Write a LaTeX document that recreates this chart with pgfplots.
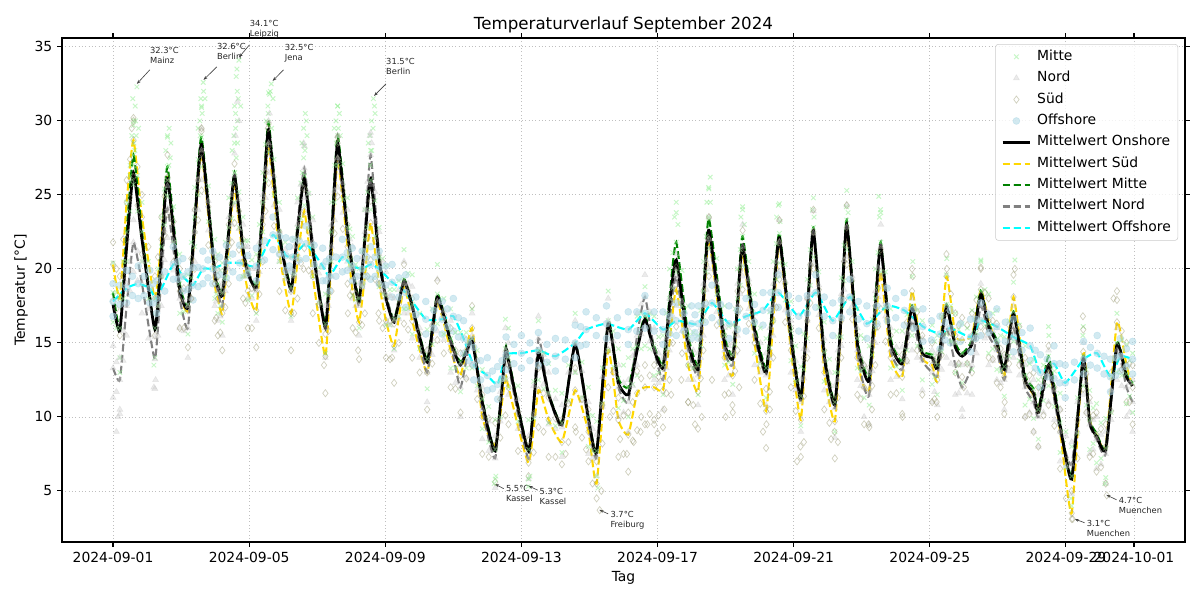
\documentclass[border=0pt]{standalone}
\usepackage{fontspec}
\setmainfont{DejaVu Sans}
\usepackage{pgfplots}
\usepackage{pgfplotstable}
\pgfplotsset{compat=1.18}
\usetikzlibrary{arrows.meta}
\definecolor{mgreen}{RGB}{144,238,144}
\definecolor{ngray}{RGB}{195,195,195}
\definecolor{skhaki}{RGB}{150,150,110}
\definecolor{oblue}{RGB}{173,216,230}
\definecolor{sgold}{RGB}{255,215,0}
\definecolor{mdgreen}{RGB}{0,128,0}
\definecolor{ndgray}{RGB}{128,128,128}
\definecolor{ocyan}{RGB}{0,255,255}

\pgfplotstableread{
x on sud mitte nord mlo mhi slo shi nlo nhi
0.00 17.6 20.3 18.4 13.3 16.4 20.4 17.8 21.8 11.3 14.8
0.20 15.8 18.0 16.0 12.5 14.0 18.0 15.5 19.5 10.5 14.0
0.40 21.5 24.5 22.5 17.5 20.5 24.5 22.0 26.0 15.5 19.0
0.60 26.5 28.7 27.7 21.8 25.7 29.7 26.2 30.2 19.8 23.3
0.85 22.0 23.5 22.5 19.0 20.5 24.5 21.0 25.0 17.0 20.5
1.23 15.9 18.0 16.0 13.9 14.0 18.0 15.5 19.5 11.9 15.4
1.42 21.0 22.0 21.5 19.5 19.5 23.5 19.5 23.5 17.5 21.0
1.60 26.1 26.2 26.9 24.1 24.9 28.9 23.7 27.7 22.1 25.6
1.96 18.6 18.5 19.0 18.0 17.0 21.0 16.0 20.0 16.0 19.5
2.20 17.4 17.2 17.6 16.0 15.6 19.6 14.7 18.7 14.0 17.5
2.40 23.0 22.5 23.5 22.5 21.5 25.5 20.0 24.0 20.5 24.0
2.60 28.4 27.8 28.9 28.0 26.9 30.9 25.3 29.3 26.0 29.5
2.99 19.7 19.0 20.0 19.5 18.0 22.0 16.5 20.5 17.5 21.0
3.08 18.8 18.0 19.0 18.5 17.0 21.0 15.5 19.5 16.5 20.0
3.21 18.2 17.0 18.4 17.5 16.4 20.4 14.5 18.5 15.5 19.0
3.40 22.5 21.5 22.8 22.0 20.8 24.8 19.0 23.0 20.0 23.5
3.57 26.3 25.6 26.5 26.3 24.5 28.5 23.1 27.1 24.3 27.8
3.82 21.3 20.5 21.5 21.5 19.5 23.5 18.0 22.0 19.5 23.0
3.96 19.7 18.5 19.9 20.0 17.9 21.9 16.0 20.0 18.0 21.5
4.21 18.8 17.2 19.0 18.5 17.0 21.0 14.7 18.7 16.5 20.0
4.40 24.0 23.0 24.5 23.5 22.5 26.5 20.5 24.5 21.5 25.0
4.57 29.4 28.3 29.9 28.5 27.9 31.9 25.8 29.8 26.5 30.0
4.89 22.2 21.0 22.5 22.5 20.5 24.5 18.5 22.5 20.5 24.0
5.23 18.6 17.0 18.8 18.5 16.8 20.8 14.5 18.5 16.5 20.0
5.42 22.5 20.5 22.8 23.0 20.8 24.8 18.0 22.0 21.0 24.5
5.62 26.1 23.9 26.3 26.8 24.3 28.3 21.4 25.4 24.8 28.3
5.87 21.3 19.5 21.5 21.8 19.5 23.5 17.0 21.0 19.8 23.3
6.24 16.0 14.1 16.3 16.0 14.3 18.3 11.6 15.6 14.0 17.5
6.42 22.0 21.0 22.5 21.5 20.5 24.5 18.5 22.5 19.5 23.0
6.60 28.5 27.4 29.0 27.5 27.0 31.0 24.9 28.9 25.5 29.0
6.89 22.4 21.5 22.8 22.5 20.8 24.8 19.0 23.0 20.5 24.0
7.04 19.9 18.5 20.2 20.0 18.2 22.2 16.0 20.0 18.0 21.5
7.23 17.8 16.4 18.0 17.5 16.0 20.0 13.9 17.9 15.5 19.0
7.40 22.0 19.5 22.0 22.5 20.0 24.0 17.0 21.0 20.5 24.0
7.57 26.1 23.1 26.0 27.7 24.0 28.0 20.6 24.6 25.7 29.2
7.82 20.6 19.0 20.8 21.0 18.8 22.8 16.5 20.5 19.0 22.5
8.02 18.0 16.5 18.2 18.3 16.2 20.2 14.0 18.0 16.3 19.8
8.26 16.4 14.8 16.6 16.5 14.6 18.6 12.3 16.3 14.5 18.0
8.55 19.2 18.8 19.3 19.0 17.3 21.3 16.3 20.3 17.0 20.5
8.79 17.5 16.5 17.6 17.3 15.6 19.6 14.0 18.0 15.3 18.8
9.23 13.7 13.0 13.9 13.0 11.9 15.9 10.5 14.5 11.0 14.5
9.53 18.1 17.7 18.3 17.8 16.3 20.3 15.2 19.2 15.8 19.3
9.92 15.1 14.5 15.3 15.0 13.3 17.3 12.0 16.0 13.0 16.5
10.21 13.5 12.8 13.7 12.0 11.7 15.7 10.3 14.3 10.0 13.5
10.55 15.1 16.0 15.3 15.5 13.3 17.3 13.5 17.5 13.5 17.0
10.85 11.0 10.0 11.2 10.5 9.2 13.2 7.5 11.5 8.5 12.0
11.23 7.7 8.1 7.8 7.2 5.8 9.8 5.6 9.6 5.2 8.7
11.53 14.4 12.6 14.6 14.5 12.6 16.6 10.1 14.1 12.5 16.0
11.62 13.8 12.0 14.0 13.5 12.0 16.0 9.5 13.5 11.5 15.0
12.21 7.7 6.9 7.8 7.2 5.8 9.8 6.0 8.4 5.8 8.7
12.50 14.3 11.8 14.5 15.3 12.5 16.5 9.3 13.3 13.3 16.8
12.80 11.5 9.8 11.6 11.5 9.6 13.6 7.3 11.3 9.5 13.0
13.19 9.5 8.3 9.6 9.3 7.6 11.6 6.8 9.8 7.3 10.8
13.58 14.9 11.8 15.0 15.0 13.0 17.0 9.3 13.3 13.0 16.5
13.97 9.9 9.0 10.0 9.5 8.0 12.0 7.0 10.5 7.5 11.0
14.21 7.6 5.5 7.7 7.3 6.0 9.7 4.5 7.0 6.0 8.8
14.55 16.3 14.5 16.5 16.5 14.5 18.5 12.0 16.0 14.5 18.0
14.85 12.3 9.8 12.6 12.0 10.6 14.6 7.3 11.3 10.0 13.5
15.14 11.5 8.8 12.0 11.0 10.0 14.0 6.3 10.3 9.0 12.5
15.40 14.5 11.6 14.8 15.5 12.8 16.8 9.1 13.1 13.5 17.0
15.63 16.6 12.0 16.8 18.1 14.8 18.8 9.5 13.5 16.1 19.6
15.90 14.5 12.0 14.8 14.5 12.8 16.8 9.5 13.5 12.5 16.0
16.16 13.3 11.8 13.5 12.5 11.5 15.5 9.3 13.3 10.5 14.0
16.35 17.5 15.0 18.0 16.5 16.0 20.0 12.5 16.5 14.5 18.0
16.55 20.6 18.6 21.8 19.5 19.8 23.8 16.1 20.1 17.5 21.0
16.90 15.0 13.5 15.5 14.5 13.5 17.5 11.0 15.0 12.5 16.0
17.19 13.2 11.7 13.5 12.8 11.5 15.5 9.2 13.2 10.8 14.3
17.35 18.0 17.0 18.5 17.5 16.5 20.5 14.5 18.5 15.5 19.0
17.51 22.6 22.0 23.4 22.0 21.4 25.4 19.5 23.5 20.0 23.5
17.97 15.0 14.0 15.5 14.5 13.5 17.5 11.5 15.5 12.5 16.0
18.21 13.9 12.8 14.2 13.5 12.2 16.2 10.3 14.3 11.5 15.0
18.35 17.5 17.0 18.0 17.5 16.0 20.0 14.5 18.5 15.5 19.0
18.50 21.6 21.1 22.2 21.5 20.2 24.2 18.6 22.6 19.5 23.0
18.85 15.9 15.0 16.3 15.5 14.3 18.3 12.5 16.5 13.5 17.0
19.19 13.0 10.4 13.3 12.8 11.3 15.3 7.9 11.9 10.8 14.3
19.40 18.0 16.5 18.5 17.5 16.5 20.5 14.0 18.0 15.5 19.0
19.58 22.1 21.8 22.4 21.8 20.4 24.4 19.3 23.3 19.8 23.3
19.92 15.4 14.5 15.8 15.0 13.8 17.8 12.0 16.0 13.0 16.5
20.21 11.2 9.8 11.4 11.0 9.4 13.4 7.3 11.3 9.0 12.5
20.40 17.0 16.5 17.3 16.5 15.3 19.3 14.0 18.0 14.5 18.0
20.58 22.6 22.5 22.8 22.4 20.8 24.8 20.0 24.0 20.4 23.9
20.90 14.1 13.0 14.4 13.8 12.4 16.4 10.5 14.5 11.8 15.3
21.21 10.8 9.7 11.0 10.6 9.0 13.0 7.2 11.2 8.6 12.1
21.40 17.0 16.5 17.4 16.8 15.4 19.4 14.0 18.0 14.8 18.3
21.56 23.0 22.8 23.3 22.8 21.3 25.3 20.3 24.3 20.8 24.3
21.87 15.0 14.0 15.3 14.5 13.3 17.3 11.5 15.5 12.5 16.0
22.07 13.0 12.0 13.3 12.0 11.3 15.3 9.5 13.5 10.0 13.5
22.22 12.5 11.8 12.8 11.5 10.8 14.8 9.3 13.3 9.5 13.0
22.40 17.5 16.0 18.0 17.0 16.0 20.0 13.5 17.5 15.0 18.5
22.56 21.6 19.8 21.8 21.5 19.8 23.8 17.3 21.3 19.5 23.0
22.85 15.0 14.0 15.3 14.5 13.3 17.3 11.5 15.5 12.5 16.0
23.19 13.6 12.7 13.8 13.2 11.8 15.8 10.2 14.2 11.2 14.7
23.48 17.4 18.5 17.5 16.5 15.5 19.5 16.0 20.0 14.5 18.0
23.78 14.3 14.0 14.5 13.8 12.5 16.5 11.5 15.5 11.8 15.3
24.07 14.0 13.5 14.2 13.0 12.2 16.2 11.0 15.0 11.0 14.5
24.22 13.3 12.5 13.5 12.8 11.5 15.5 10.0 14.0 10.8 14.3
24.49 17.4 19.5 17.6 16.0 15.6 19.6 17.0 21.0 14.0 17.5
24.75 14.7 15.5 15.0 13.5 13.0 17.0 13.0 17.0 11.5 15.0
24.95 14.1 15.2 14.3 12.0 12.3 16.3 12.7 16.7 10.0 13.5
25.24 14.9 15.5 15.2 13.5 13.2 17.2 13.0 17.0 11.5 15.0
25.50 18.3 18.6 18.5 17.5 16.5 20.5 16.1 20.1 15.5 19.0
25.73 16.1 16.5 16.3 15.5 14.3 18.3 14.0 18.0 13.5 17.0
25.97 15.0 14.8 15.2 14.5 13.2 17.2 12.3 16.3 12.5 16.0
26.19 13.2 12.7 13.4 12.5 11.4 15.4 10.2 14.2 10.5 14.0
26.46 17.0 18.1 17.1 16.0 15.1 19.1 15.6 19.6 14.0 17.5
26.80 12.5 12.5 12.8 12.0 10.8 14.8 10.0 14.0 10.0 13.5
27.05 11.6 11.5 11.9 11.0 9.9 13.9 9.0 13.0 9.0 12.5
27.19 10.3 10.5 10.5 10.0 8.5 12.5 8.0 12.0 8.0 11.5
27.49 13.5 13.3 14.1 13.0 12.1 16.1 10.8 14.8 11.0 14.5
27.83 9.4 9.0 9.6 9.0 7.6 11.6 6.5 10.5 7.0 10.5
28.17 5.8 3.5 6.0 6.8 4.0 8.0 3.1 5.0 4.8 8.3
28.51 14.0 14.4 14.1 13.5 12.1 16.1 11.9 15.9 11.5 15.0
28.70 9.6 9.8 9.8 9.5 7.8 11.8 7.3 11.3 7.5 11.0
28.90 8.7 8.8 8.9 8.5 6.9 10.9 6.3 10.3 6.5 10.0
29.17 7.8 8.0 7.9 7.5 5.9 9.9 5.5 9.5 5.5 9.0
29.50 14.9 16.4 15.0 14.5 13.0 17.0 13.9 17.9 12.5 16.0
29.78 12.7 13.5 12.9 12.0 10.9 14.9 11.0 15.0 10.0 13.5
29.96 12.1 12.0 12.3 11.0 10.3 14.3 9.5 13.5 9.0 12.5
}\tdata

\pgfplotstableread{
x ma mb sa sb na nb
0.10 18.4 16.0 20.0 17.3 13.7 11.7
0.30 20.5 18.0 22.0 19.5 15.8 13.8
0.50 26.3 23.9 27.4 24.8 20.5 18.5
0.72 26.3 23.9 26.9 24.3 21.2 19.2
1.04 20.5 18.0 21.5 19.0 17.3 15.3
1.32 20.0 17.5 20.8 18.2 17.5 15.5
1.51 25.4 23.0 24.9 22.3 22.6 20.6
1.78 24.2 21.8 23.2 20.5 21.9 19.9
2.08 19.5 17.1 18.7 16.0 17.8 15.8
2.30 21.8 19.4 20.7 18.0 20.0 18.0
2.50 27.4 25.0 26.0 23.3 26.0 24.0
2.80 25.6 23.2 24.2 21.6 24.6 22.6
3.03 20.7 18.3 19.3 16.7 19.8 17.8
3.15 19.9 17.5 18.3 15.7 18.8 16.8
3.30 21.8 19.4 20.0 17.4 20.5 18.5
3.49 25.8 23.4 24.4 21.8 25.0 23.0
3.70 25.2 22.8 23.9 21.3 24.7 22.7
3.89 21.9 19.5 20.3 17.7 21.5 19.5
4.08 20.6 18.2 18.7 16.0 20.0 18.0
4.30 23.0 20.5 20.9 18.3 21.8 19.8
4.48 28.4 26.0 26.5 23.9 26.8 24.8
4.73 27.4 25.0 25.5 22.9 26.3 24.3
5.06 21.8 19.4 19.8 17.2 21.3 19.3
5.32 22.0 19.6 19.6 17.0 21.5 19.5
5.52 25.8 23.4 23.0 20.4 25.7 23.7
5.75 25.1 22.7 22.5 19.9 25.1 23.1
6.05 20.1 17.7 17.6 15.0 19.7 17.7
6.33 20.6 18.2 18.4 15.8 19.5 17.5
6.51 27.0 24.5 25.0 22.4 25.3 23.3
6.75 27.1 24.7 25.3 22.7 25.8 23.8
6.96 22.7 20.3 20.8 18.2 22.0 20.0
7.13 20.3 17.9 18.3 15.7 19.5 17.5
7.32 21.2 18.8 18.8 16.2 20.8 18.8
7.48 25.2 22.8 22.1 19.5 25.9 23.9
7.70 24.6 22.2 21.9 19.3 25.2 23.2
7.92 20.7 18.3 18.6 16.0 20.5 18.5
8.14 18.6 16.2 16.5 13.9 18.2 16.2
8.40 19.2 16.8 17.6 15.0 18.6 16.6
8.67 19.7 17.3 18.5 15.9 19.0 17.0
9.01 17.0 14.6 15.6 13.0 16.0 14.0
9.38 17.3 14.9 16.2 13.6 16.2 14.2
9.72 18.0 15.6 16.9 14.3 17.2 15.2
10.06 15.7 13.3 14.5 11.9 14.3 12.3
10.38 15.7 13.3 15.2 12.6 14.6 12.6
10.70 14.5 12.1 13.8 11.2 13.8 11.8
11.04 10.7 8.3 9.9 7.3 9.7 7.7
11.38 12.4 10.0 11.2 8.6 11.7 9.7
11.90 12.1 9.7 10.3 7.7 11.2 9.2
12.36 12.4 9.9 10.2 7.6 12.1 10.1
12.65 14.3 11.9 11.6 9.0 14.2 12.2
13.00 11.8 9.4 9.9 7.3 11.2 9.2
13.38 13.5 11.1 10.9 8.3 13.0 11.0
13.78 13.7 11.3 11.2 8.6 13.1 11.1
14.09 10.1 7.7 8.1 5.5 9.2 7.2
14.38 13.3 10.9 10.8 8.2 12.7 10.7
14.70 15.8 13.4 13.0 10.4 15.1 13.1
15.00 13.5 11.1 10.1 7.5 12.3 10.3
15.27 14.6 12.2 11.0 8.4 14.1 12.1
15.52 17.0 14.6 12.6 10.0 17.6 15.6
15.77 17.0 14.6 12.8 10.2 17.1 15.1
16.03 15.4 13.0 12.7 10.1 14.3 12.3
16.26 17.0 14.6 14.2 11.6 15.3 13.3
16.45 21.1 18.7 17.6 15.0 18.8 16.8
16.72 19.9 17.5 16.9 14.3 17.8 15.8
17.05 15.7 13.3 13.4 10.8 14.5 12.5
17.27 17.2 14.8 15.2 12.6 16.0 14.0
17.43 22.2 19.8 20.3 17.7 20.6 18.6
17.74 20.7 18.3 18.8 16.2 19.1 17.1
18.09 16.1 13.7 14.2 11.6 14.8 12.8
18.28 17.3 14.9 15.7 13.1 16.3 14.3
18.43 21.3 18.9 19.9 17.3 20.3 18.3
18.68 20.5 18.1 18.9 16.3 19.3 17.3
19.02 16.0 13.6 13.5 10.9 15.0 13.0
19.30 17.1 14.7 14.3 11.7 16.0 14.0
19.49 21.7 19.3 20.0 17.4 20.5 18.5
19.75 20.3 17.9 19.0 16.4 19.2 17.2
20.06 14.8 12.4 13.0 10.4 13.8 11.8
20.30 15.6 13.2 14.0 11.4 14.6 12.6
20.49 21.3 18.9 20.3 17.7 20.3 18.3
20.74 19.8 17.4 18.6 16.0 18.9 16.9
21.05 13.9 11.5 12.2 9.6 13.0 11.0
21.30 15.4 13.0 13.9 11.3 14.5 12.5
21.48 21.6 19.2 20.5 17.9 20.6 18.6
21.72 20.5 18.1 19.2 16.6 19.5 17.5
21.97 15.5 13.1 13.8 11.2 14.1 12.1
22.31 16.6 14.2 14.7 12.1 15.1 13.1
22.48 21.1 18.7 18.7 16.1 20.1 18.1
22.70 19.8 17.4 17.7 15.1 18.8 16.8
23.02 15.8 13.4 14.2 11.6 14.7 12.7
23.33 16.9 14.5 16.4 13.8 15.7 13.7
23.63 17.2 14.8 17.1 14.5 16.0 14.0
24.14 15.1 12.7 13.8 11.2 13.7 11.7
24.35 16.8 14.4 16.8 14.2 15.2 13.2
24.62 17.5 15.1 18.3 15.7 15.6 13.6
24.85 15.9 13.5 16.2 13.6 13.6 11.6
25.10 16.0 13.6 16.2 13.6 13.6 11.6
25.37 18.1 15.7 17.9 15.3 16.3 14.3
25.62 18.6 16.2 18.4 15.8 17.3 15.3
25.85 17.0 14.6 16.5 13.9 15.8 13.8
26.08 15.5 13.1 14.6 12.0 14.3 12.3
26.33 16.5 14.1 16.2 13.6 15.1 13.1
26.63 16.2 13.8 16.1 13.5 14.8 12.8
26.93 13.6 11.2 12.8 10.2 12.3 10.3
27.34 13.5 11.1 12.7 10.1 12.3 10.3
27.66 13.1 10.7 12.0 9.4 11.8 9.8
28.00 9.0 6.6 7.1 4.5 8.7 6.7
28.34 11.3 8.9 9.8 7.2 11.0 9.0
28.60 13.2 10.8 12.9 10.3 12.3 10.3
28.80 10.6 8.2 10.1 7.5 9.8 7.8
29.03 9.6 7.2 9.2 6.6 8.8 6.8
29.33 12.7 10.3 13.0 10.4 11.8 9.8
29.64 15.2 12.8 15.8 13.2 14.1 12.1
29.87 13.8 11.4 13.6 11.0 12.3 10.3
}\tmid

\pgfplotstableread{
x off olo ohi
0.00 17.8 16.8 19.0
0.40 18.7 17.7 19.9
0.74 19.0 18.0 20.2
1.08 18.7 17.7 19.9
1.28 18.0 17.0 19.2
1.77 20.3 19.3 21.5
2.05 19.5 18.5 20.7
2.35 18.9 17.9 20.1
2.64 20.0 19.0 21.2
2.93 20.0 19.0 21.2
3.33 20.4 19.4 21.6
3.72 20.4 19.4 21.6
4.21 20.2 19.2 21.4
4.70 22.3 21.3 23.5
5.08 20.9 19.9 22.1
5.28 20.8 19.8 22.0
5.67 21.7 20.7 22.9
6.16 20.2 19.2 21.4
6.36 19.5 18.5 20.7
6.74 20.8 19.8 22.0
7.03 20.2 19.2 21.4
7.32 20.0 19.0 21.2
7.57 20.3 19.3 21.5
7.82 20.0 19.0 21.2
8.20 19.1 18.1 20.3
8.60 18.4 17.4 19.6
9.19 16.6 15.6 17.8
9.67 16.6 15.6 17.8
10.00 16.8 15.8 18.0
10.30 15.3 14.3 16.5
10.60 13.5 12.5 14.7
11.00 12.8 11.8 14.0
11.30 12.2 11.2 13.4
11.55 14.2 13.2 15.4
12.00 14.3 13.3 15.5
12.50 14.5 13.5 15.7
13.00 14.1 13.1 15.3
13.58 15.0 14.0 16.2
13.90 15.9 14.9 17.1
14.50 16.3 15.3 17.5
15.14 15.9 14.9 17.1
15.63 17.0 16.0 18.2
16.16 15.9 14.9 17.1
16.55 16.5 15.5 17.7
17.00 16.3 15.3 17.5
17.20 16.3 15.3 17.5
17.60 17.7 16.7 18.9
18.10 16.3 15.3 17.5
18.60 16.8 15.8 18.0
19.10 17.2 16.2 18.4
19.55 18.4 17.4 19.6
20.15 16.8 15.8 18.0
20.65 18.4 17.4 19.6
21.15 16.5 15.5 17.7
21.65 18.1 17.1 19.3
22.15 16.3 15.3 17.5
22.75 17.5 16.5 18.7
23.25 17.2 16.2 18.4
23.80 16.1 15.1 17.3
24.30 15.6 14.6 16.8
24.60 16.0 15.0 17.2
25.20 15.4 14.4 16.6
25.50 16.5 15.5 17.7
25.97 16.1 15.1 17.3
26.46 15.4 14.4 16.6
26.95 14.8 13.8 16.0
27.25 13.0 12.0 14.2
27.65 13.6 12.6 14.8
27.98 12.3 11.3 13.5
28.52 13.9 12.9 15.1
28.92 14.3 13.3 15.5
29.31 12.7 11.7 13.9
29.60 14.1 13.1 15.3
29.96 13.9 12.9 15.1
}\toff

\pgfplotstableread{
x oa ob
0.20 18.9 17.6
0.57 19.5 18.2
0.91 19.5 18.2
1.18 19.0 17.7
1.52 19.8 18.5
1.91 20.5 19.3
2.20 19.8 18.6
2.50 20.1 18.8
2.79 20.6 19.4
3.13 20.8 19.6
3.52 21.0 19.8
3.96 20.9 19.7
4.45 21.9 20.6
4.89 22.2 21.0
5.18 21.5 20.2
5.47 21.9 20.6
5.91 21.6 20.3
6.26 20.5 19.2
6.55 20.8 19.5
6.88 21.1 19.9
7.17 20.7 19.5
7.45 20.8 19.5
7.70 20.8 19.5
8.01 20.2 18.9
8.40 19.4 18.1
8.90 18.1 16.9
9.43 17.2 16.0
9.83 17.3 16.1
10.15 16.7 15.4
10.45 15.0 13.8
10.80 13.8 12.5
11.15 13.1 11.9
11.43 13.8 12.6
11.78 14.9 13.6
12.25 15.0 13.8
12.75 14.9 13.7
13.29 15.2 13.9
13.74 16.1 14.8
14.20 16.7 15.5
14.82 16.7 15.5
15.39 17.1 15.8
15.90 17.1 15.8
16.36 16.8 15.6
16.78 17.0 15.8
17.10 16.9 15.7
17.40 17.6 16.4
17.85 17.6 16.4
18.35 17.2 15.9
18.85 17.6 16.4
19.33 18.4 17.2
19.85 18.2 17.0
20.40 18.2 17.0
20.90 18.1 16.8
21.40 17.9 16.7
21.90 17.8 16.6
22.45 17.5 16.3
23.00 18.0 16.7
23.53 17.3 16.0
24.05 16.5 15.2
24.45 16.4 15.2
24.90 16.3 15.1
25.35 16.6 15.3
25.74 16.9 15.7
26.22 16.4 15.1
26.71 15.7 14.5
27.10 14.5 13.3
27.45 13.9 12.7
27.82 13.6 12.3
28.25 13.7 12.5
28.72 14.7 13.5
29.12 14.1 12.9
29.46 14.0 12.8
29.78 14.6 13.4
}\toffmid

\begin{document}
\begin{tikzpicture}
\begin{axis}[
  name=ax,
  scale only axis,
  width=808.6pt, height=362.9pt,
  xmin=-1.5, xmax=31.5, ymin=1.55, ymax=35.6,
  clip=false,
  xtick={0,4,8,12,16,20,24,28,30},
  xticklabels={2024-09-01,2024-09-05,2024-09-09,2024-09-13,2024-09-17,2024-09-21,2024-09-25,2024-09-29,2024-10-01},
  ytick={5,10,15,20,25,30,35},
  /pgf/number format/assume math mode=true,
  tick align=outside,
  major tick length=3.5pt,
  every tick/.style={black, line width=0.8pt},
  axis line style={line width=0.8pt},
  tick label style={font=\fontsize{10}{12}\selectfont},
  grid=major,
  grid style={dotted, line width=0.6pt, black!25},
  xlabel={Tag},
  ylabel={Temperatur [°C]},
  label style={font=\fontsize{10}{12}\selectfont},
  ylabel style={yshift=-2pt},
  title={Temperaturverlauf September 2024},
  title style={font=\fontsize{12}{14}\selectfont, yshift=-6pt},
  legend cell align=left,
  legend style={at={(0.9938,0.988)}, anchor=north east, draw=black!20, rounded corners=2pt,
    fill=white, fill opacity=0.8, text opacity=1, font=\fontsize{10}{12}\selectfont,
    row sep=3.4pt, column sep=3pt, inner xsep=4pt, inner ysep=3pt,
    nodes={inner sep=1pt, text height=7.5pt, text depth=2.5pt}},
  legend image code/.code={\draw[mark repeat=2,mark phase=2,#1] plot coordinates {(0pt,0pt) (10pt,0pt) (20pt,0pt)};},
  mittestyle/.style={only marks, mark=x, mark size=2.3pt, color=mgreen, line width=0.7pt, opacity=0.5},
  nordstyle/.style={only marks, mark=triangle*, mark size=2.5pt, color=ngray, mark options={draw=ngray, fill=ngray}, opacity=0.33},
  sudstyle/.style={only marks, mark=diamond, mark size=2.6pt, color=skhaki, line width=0.5pt, mark options={fill=none}, opacity=0.45},
  offstyle/.style={only marks, mark=*, mark size=2.5pt, color=oblue, mark options={draw=oblue, fill=oblue}, opacity=0.55},
  sudline/.style={sgold, line width=1.5pt, dash pattern=on 5.55pt off 2.4pt},
  mitteline/.style={mdgreen, line width=1.5pt, dash pattern=on 5.55pt off 2.4pt},
  nordline/.style={ndgray, line width=1.5pt, dash pattern=on 5.55pt off 2.4pt},
  offline/.style={ocyan, line width=1.5pt, dash pattern=on 5.55pt off 2.4pt},
  online/.style={black, line width=2pt},
]
% scatter series (legend entries)
\addplot[mittestyle] table[x=x, y=mhi] {\tdata};
\addlegendentry{Mitte}
\addplot[nordstyle] table[x=x, y=nlo] {\tdata};
\addlegendentry{Nord}
\addplot[sudstyle] table[x=x, y=slo] {\tdata};
\addlegendentry{Süd}
\addplot[offstyle] table[x=x, y=olo] {\toff};
\addlegendentry{Offshore}
\addlegendimage{online}
\addlegendentry{Mittelwert Onshore}
\addlegendimage{sudline}
\addlegendentry{Mittelwert Süd}
\addlegendimage{mitteline}
\addlegendentry{Mittelwert Mitte}
\addlegendimage{nordline}
\addlegendentry{Mittelwert Nord}
\addlegendimage{offline}
\addlegendentry{Mittelwert Offshore}

% further scatter points of the same series
\addplot[mittestyle, forget plot] table[x=x, y=mlo] {\tdata};
\addplot[mittestyle, forget plot] table[x=x, y=mitte] {\tdata};
\addplot[mittestyle, forget plot] table[x=x, y=ma] {\tmid};
\addplot[mittestyle, forget plot] table[x=x, y=mb] {\tmid};
\addplot[mittestyle, forget plot] coordinates {
(0.5,27) (0.55,29) (0.6,30) (0.65,31) (0.7,32.3) (0.75,29.5) (0.62,28.5)
(0.56,26) (0.6,27) (0.64,28) (0.68,29) (0.58,31.5) (0.66,30)
(1.55,28) (1.6,29) (1.65,29.5) (1.7,28.5) (1.56,25) (1.6,26) (1.64,27) (1.68,27.5)
(2.5,29.5) (2.55,30) (2.6,31) (2.65,32.6) (2.7,31.5) (2.56,29) (2.62,30.5) (2.66,32) (2.58,31.5)
(3.5,28) (3.55,29) (3.6,30.5) (3.65,32) (3.7,34.1) (3.62,33) (3.75,31)
(3.58,26.5) (3.62,27.5) (3.66,28.5) (3.6,29.5) (3.68,31.5) (3.64,33.5) (3.57,31) (3.66,30)
(4.5,30) (4.55,31) (4.6,31.8) (4.65,32.5) (4.7,31.5) (4.56,30.5) (4.62,32) (4.66,29.5)
(5.55,28.5) (5.6,29.5) (5.65,30.5) (5.7,29) (5.56,26.5) (5.6,27.5) (5.64,28) (5.68,30)
(6.5,29.5) (6.55,30) (6.6,31) (6.65,30.5) (6.56,28.5) (6.62,29.5) (6.68,29)
(7.5,28.5) (7.55,29) (7.6,30) (7.65,31.5) (7.7,30.5) (7.56,27) (7.6,28) (7.64,29.5) (7.68,31)
(16.5,23.5) (16.55,24.5) (17.45,24.5) (17.5,25.5) (17.55,24.5) (18.45,23.5) (18.5,24)
(19.5,23.5) (19.55,24.3) (20.55,24) (21.55,24.2) (22.5,24.9) (22.55,24) (23.5,20.5)
(16.6,23) (17.5,23.5) (17.55,26.2) (18.55,23) (19.6,23.2) (20.6,23.5) (21.6,23.8) (22.52,23.5)
(24.5,20.7) (25.5,20.6) (26.5,20.6) (27.5,15.5) (28.5,15.5)
(11.2,5.5) (11.25,6) (12.2,5.3) (12.25,6) (14.25,5.2) (28.15,4.5) (29.15,5.5)
(0.2,13) (1.2,13.5)
};
\addplot[nordstyle, forget plot] table[x=x, y=nhi] {\tdata};
\addplot[nordstyle, forget plot] table[x=x, y=nord] {\tdata};
\addplot[nordstyle, forget plot] table[x=x, y=na] {\tmid};
\addplot[nordstyle, forget plot] table[x=x, y=nb] {\tmid};
\addplot[nordstyle, forget plot] coordinates {
(0.1,9.0) (0.15,10) (0.2,10.2) (1.2,12) (1.25,12.5) (3.6,29) (3.65,31.3) (3.7,30)
(4.6,30.5) (7.55,29) (7.6,28.5) (5.6,28.5) (6.6,29) (24.95,10.5)
};
\addplot[sudstyle, forget plot] table[x=x, y=shi] {\tdata};
\addplot[sudstyle, forget plot] table[x=x, y=sud] {\tdata};
\addplot[sudstyle, forget plot] table[x=x, y=sa] {\tmid};
\addplot[sudstyle, forget plot] table[x=x, y=sb] {\tmid};
\addplot[sudstyle, forget plot] coordinates {
(0.6,30) (0.55,29.5) (4.55,29.5) (6.6,28.5) (2.6,29.5)
(13.3,7.5) (13.6,9) (13.9,7.8) (14.3,3.7) (14.35,5) (14.6,10) (14.9,8.5) (15.1,7.5)
(15.3,8.3) (15.5,9) (15.7,9.5) (15.9,9.8) (16.0,8.9) (16.2,10.5) (16.4,11.5) (16.7,12.5)
(16.9,11) (17.1,9.5) (17.3,10) (17.6,12.5) (18.0,10) (18.2,10.8) (18.4,12) (19.1,9)
(19.2,9.5) (19.3,10.5) (20.1,7) (20.2,8) (20.3,8.3) (21.1,8.5) (21.2,9) (21.3,8.3)
(22.2,9.5) (22.3,10.5) (23.2,10) (24.2,11) (25.0,12) (26.2,11) (28.2,3.1) (29.2,4.7)
(29.4,18) (29.5,18.5) (28.5,16.8) (24.5,20) (23.5,19.5) (25.5,20) (26.5,20)
(6.2,13.5) (7.2,14.5) (8.2,14) (5.6,20) (6.9,17) (7.8,17)
};
\addplot[offstyle, forget plot] table[x=x, y=off] {\toff};
\addplot[offstyle, forget plot] table[x=x, y=ohi] {\toff};
\addplot[offstyle, forget plot] table[x=x, y=oa] {\toffmid};
\addplot[offstyle, forget plot] table[x=x, y=ob] {\toffmid};

% mean lines (Onshore drawn last, on top)
\addplot[sudline, smooth, tension=0.3, forget plot] table[x=x, y=sud] {\tdata};
\addplot[mitteline, smooth, tension=0.3, forget plot] table[x=x, y=mitte] {\tdata};
\addplot[nordline, smooth, tension=0.3, forget plot] table[x=x, y=nord] {\tdata};
\addplot[offline, smooth, tension=0.3, forget plot] table[x=x, y=off] {\toff};
\addplot[online, smooth, tension=0.3, forget plot] table[x=x, y=on] {\tdata};

% annotations
\tikzset{ann/.style={font=\fontsize{6}{7.5}\selectfont, align=left, anchor=north west, inner sep=0pt, text=black!85},
         annarr/.style={-{Stealth[length=3pt,width=2.2pt]}, line width=0.45pt, black!75}}
\node[ann] at (axis cs:1.08,35.0) {32.3°C\\Mainz};
\draw[annarr] (axis cs:1.08,33.45) -- (axis cs:0.70,32.5);
\node[ann] at (axis cs:3.05,35.27) {32.6°C\\Berlin};
\draw[annarr] (axis cs:3.05,33.65) -- (axis cs:2.66,32.77);
\node[ann] at (axis cs:4.01,36.82) {34.1°C\\Leipzig};
\draw[annarr] (axis cs:4.01,35.14) -- (axis cs:3.70,34.29);
\node[ann] at (axis cs:5.04,35.2) {32.5°C\\Jena};
\draw[annarr] (axis cs:5.01,33.45) -- (axis cs:4.69,32.7);
\node[ann] at (axis cs:8.02,34.26) {31.5°C\\Berlin};
\draw[annarr] (axis cs:8.02,32.5) -- (axis cs:7.67,31.69);
\node[ann] at (axis cs:11.54,5.41) {5.5°C\\Kassel};
\draw[annarr] (axis cs:11.48,5.15) -- (axis cs:11.22,5.47);
\node[ann] at (axis cs:12.53,5.2) {5.3°C\\Kassel};
\draw[annarr] (axis cs:12.48,5.05) -- (axis cs:12.21,5.34);
\node[ann] at (axis cs:14.61,3.65) {3.7°C\\Freiburg};
\draw[annarr] (axis cs:14.55,3.45) -- (axis cs:14.29,3.72);
\node[ann] at (axis cs:28.61,3.04) {3.1°C\\Muenchen};
\draw[annarr] (axis cs:28.55,2.85) -- (axis cs:28.26,3.1);
\node[ann] at (axis cs:29.55,4.6) {4.7°C\\Muenchen};
\draw[annarr] (axis cs:29.49,4.4) -- (axis cs:29.19,4.73);
\end{axis}
\pgfresetboundingbox
\path ([xshift=-44.64pt, yshift=-41.76pt]ax.south west) rectangle ([xshift=10.8pt, yshift=27.36pt]ax.north east);
\end{tikzpicture}
\end{document}
